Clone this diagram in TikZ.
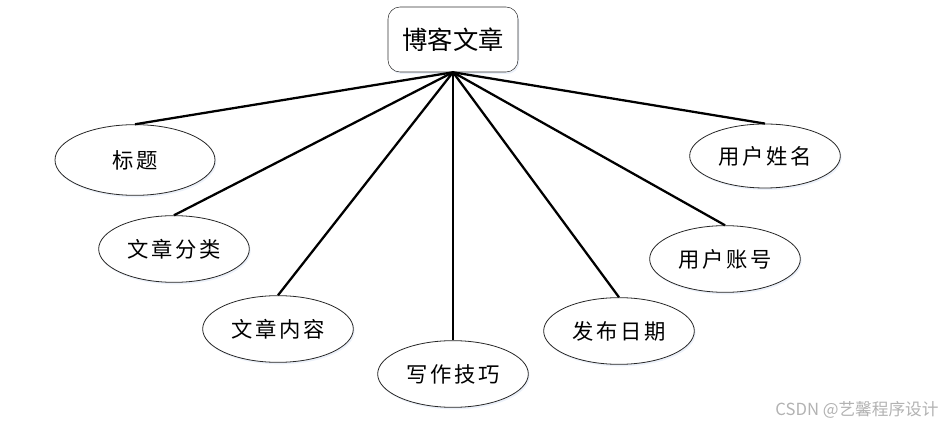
\documentclass[tikz,border=0pt]{standalone}
\usepackage{fontspec}
\usepackage{xcolor}
\usepackage{tikz}
\usetikzlibrary{shapes.geometric, shadows}
\newfontfamily\cjktitle{Noto Sans CJK SC}
\newfontfamily\cjkattr[LetterSpace=12]{Noto Sans CJK SC}
\definecolor{shadowblue}{HTML}{C9D8F0}
\tikzset{
  % Entita' principale
  entity/.style={draw=black!80,rounded corners=9pt,minimum width=97.5pt,minimum height=48.75pt,
    font=\cjktitle\fontsize{19}{21}\selectfont,fill=white,
    drop shadow={opacity=0.35,fill=shadowblue,shadow xshift=1pt,shadow yshift=-1.5pt}},
  % Attributi
  attr/.style={ellipse,draw=black!85,line width=0.6pt,minimum width=113pt,minimum height=50pt,inner sep=0pt,
    font=\cjkattr\fontsize{16}{18}\selectfont,fill=white,
    drop shadow={opacity=0.35,fill=shadowblue,shadow xshift=1pt,shadow yshift=-1.5pt}},
  % Collegamenti
  connect/.style={line width=1.7pt,black}
}
\begin{document}
\begin{tikzpicture}[x=0.75pt,y=-0.75pt]
    \useasboundingbox (0,0) rectangle (947,427);
    % Entita'
    \node[entity] (blog) at (453,39.5) {博客文章};
    % Attributi a sinistra
    \node[attr,minimum width=120pt,minimum height=53pt] (title) at (135,160) {标题};
    \node[attr] (category) at (174,249) {文章分类};
    \node[attr] (content) at (278,329) {文章内容};
    % Attributo centrale
    \node[attr] (tips) at (453,374) {写作技巧};
    % Attributi a destra
    \node[attr] (date) at (619,331) {发布日期};
    \node[attr] (account) at (725,259) {用户账号};
    \node[attr,minimum height=48pt] (username) at (765,156) {用户姓名};
    % Collegamenti
    \foreach \a in {title,category,content,tips,date,account,username}
      \draw[connect] (blog.south) -- (\a.north);
    % Filigrana
    \node[gray!60,font=\cjktitle\fontsize{12.5}{14}\selectfont] (mark) at (857,410) {CSDN @艺馨程序设计};
\end{tikzpicture}
\end{document}
